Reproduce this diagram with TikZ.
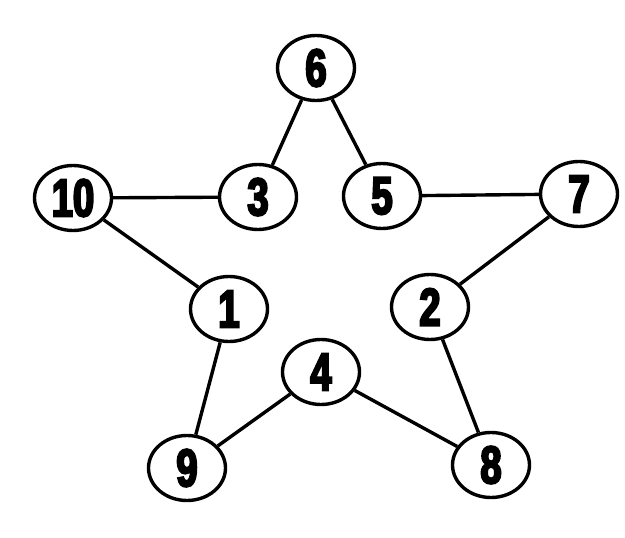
\documentclass[tikz,border=0pt]{standalone}
\usepackage{fontspec}
\newfontfamily\numfont[FakeStretch=0.72,FakeBold=4]{Liberation Sans Bold}
\usetikzlibrary{shapes.geometric}
\tikzset{
  num/.style={ellipse,draw=black,line width=3.4pt,fill=white,minimum width=77pt,minimum height=65pt,inner sep=0pt,font=\numfont\fontsize{53}{53}\selectfont},
  edge/.style={line width=3.4pt,black}
}
\begin{document}
\begin{tikzpicture}[x=1pt,y=-1pt]
\useasboundingbox (0,0) rectangle (625,538);
\node[num] (n6) at (316,68) {6};
\node[num] (n3) at (258,197) {3};
\node[num] (n5) at (382,196) {5};
\node[num] (n10) at (73,198) {10};
\node[num] (n7) at (579,194) {7};
\node[num] (n1) at (229,309) {1};
\node[num] (n2) at (430,307) {2};
\node[num] (n4) at (321,372) {4};
\node[num] (n9) at (187,468) {9};
\node[num] (n8) at (491,465) {8};
\draw[edge] (n6) -- (n3);
\draw[edge] (n6) -- (n5);
\draw[edge] (n10) -- (n3);
\draw[edge] (n5) -- (n7);
\draw[edge] (n10) -- (n1);
\draw[edge] (n7) -- (n2);
\draw[edge] (n1) -- (n9);
\draw[edge] (n2) -- (n8);
\draw[edge] (n9) -- (n4);
\draw[edge] (n4) -- (n8);
\end{tikzpicture}
\end{document}
